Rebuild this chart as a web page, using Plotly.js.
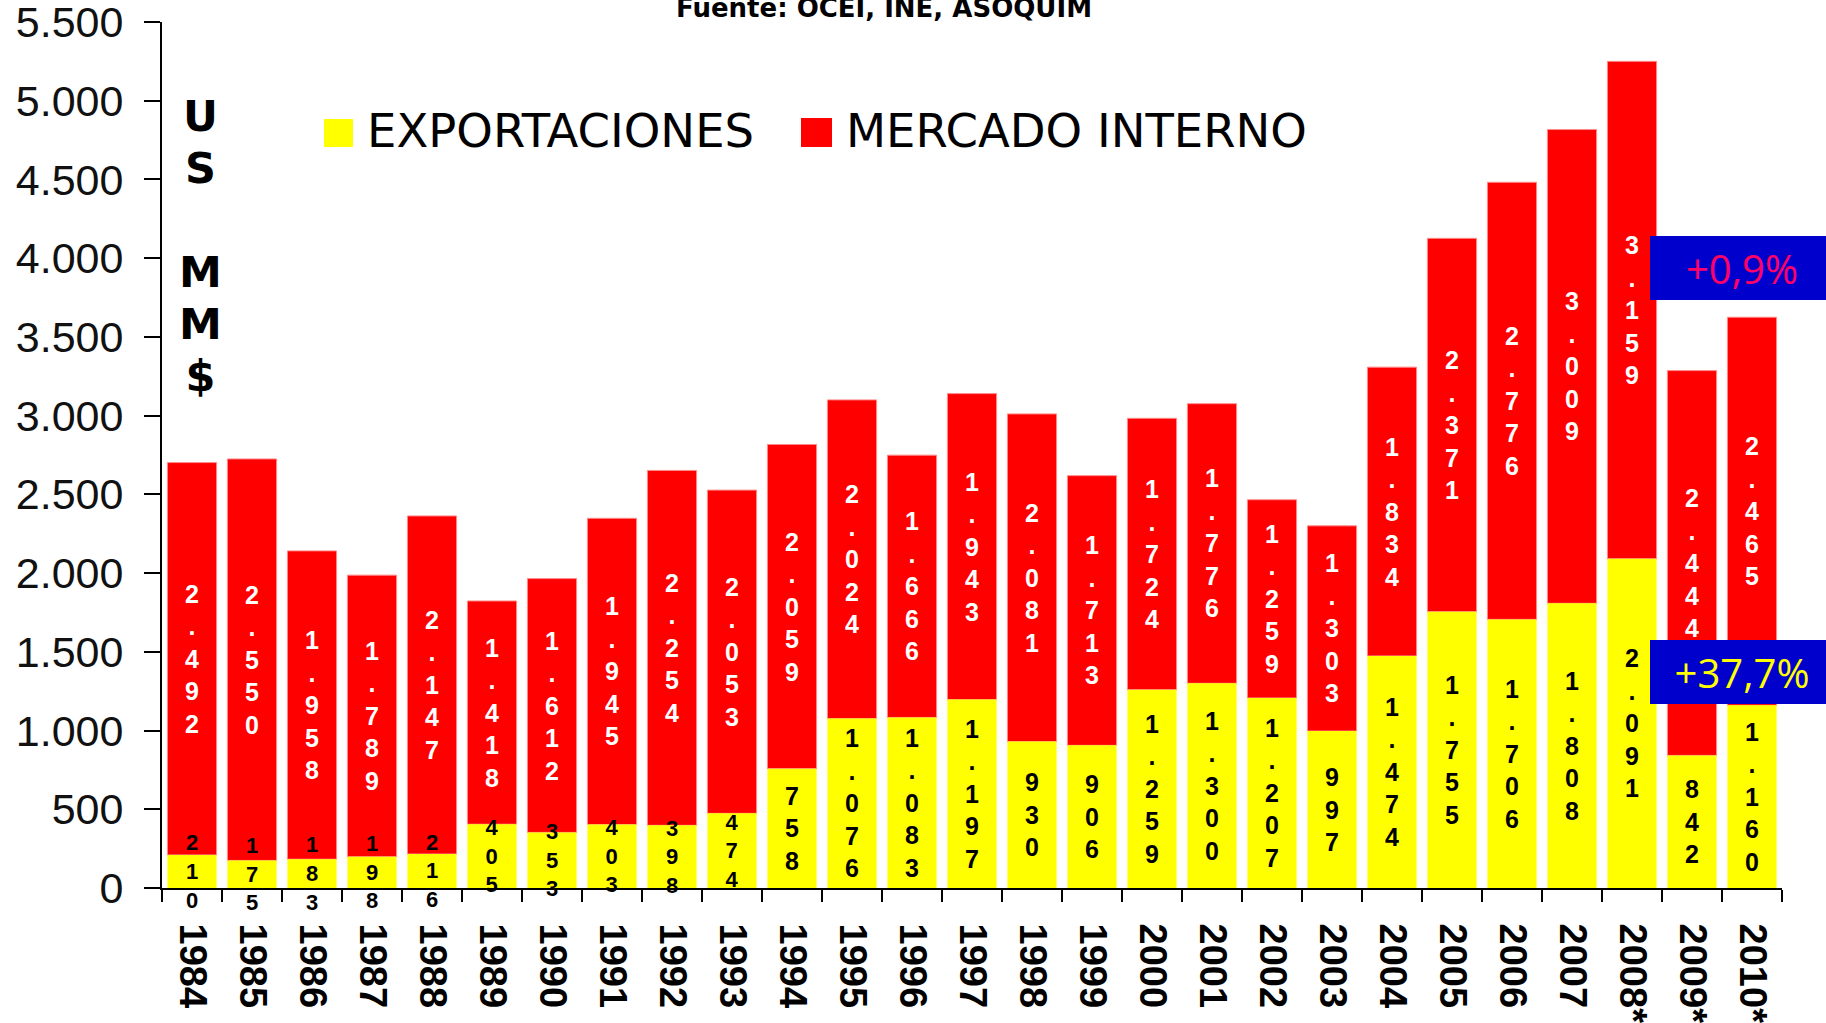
<!DOCTYPE html>
<html>
<head>
<meta charset="utf-8">
<script src="https://cdn.plot.ly/plotly-3.0.1.min.js"></script>
<style>
  html, body { margin: 0; padding: 0; background: #ffffff; }
  #chart { width: 1826px; height: 1023px; }
</style>
</head>
<body>
<div id="chart"></div>
<script>
// ---------- DATA ----------
const years = ['1984','1985','1986','1987','1988','1989','1990','1991','1992','1993',
  '1994','1995','1996','1997','1998','1999','2000','2001','2002','2003',
  '2004','2005','2006','2007','2008*','2009*','2010*'];
const exportaciones = [210,175,183,198,216,405,353,403,398,474,
  758,1076,1083,1197,930,906,1259,1300,1207,997,
  1474,1755,1706,1808,2091,842,1160];
const mercadoInterno = [2492,2550,1958,1789,2147,1418,1612,1945,2254,2053,
  2059,2024,1666,1943,2081,1713,1724,1776,1259,1303,
  1834,2371,2776,3009,3159,2444,2465];
const yTickValues = [0,500,1000,1500,2000,2500,3000,3500,4000,4500,5000,5500];
const seriesNames = ['EXPORTACIONES', 'MERCADO INTERNO'];
const sourceText = 'Fuente: OCEI, INE, ASOQUIM';
const unitLetters = ['U','S','','M','M','$'];
const changeLabels = ['+0,9%', '+37,7%'];

// ---------- HELPERS ----------
function fmt(n) {
  if (n >= 1000) return Math.floor(n / 1000) + '.' + String(n % 1000).padStart(3, '0');
  return String(n);
}
function vertical(n) { return fmt(n).split('').join('<br>'); }

const Wd = 1826, Ht = 1023, L = 162, R = 44, T = 22, B = 135;
const plotW = Wd - L - R, plotH = Ht - T - B;
const px = x => (x - L) / plotW;
const py = y => (Ht - B - y) / plotH;

const labelFont = 'Liberation Sans, Arial, sans-serif';

const traceMercado = {
  type: 'bar',
  name: seriesNames[1],
  x: years,
  y: mercadoInterno,
  base: exportaciones,
  marker: { color: '#FF0000', line: { color: '#FF8C8C', width: 1 } },
  text: mercadoInterno.map(vertical),
  textposition: 'inside',
  insidetextanchor: 'middle',
  textangle: 0,
  constraintext: 'none',
  cliponaxis: false,
  textfont: { family: labelFont, size: 25, color: '#FFFFFF', weight: 'bold' },
  showlegend: false,
  hoverinfo: 'x+y'
};
const traceExport = {
  type: 'bar',
  name: seriesNames[0],
  x: years,
  y: exportaciones,
  marker: { color: '#FFFF00', line: { width: 0 } },
  text: exportaciones.map(vertical),
  textposition: 'inside',
  insidetextanchor: 'middle',
  textangle: 0,
  constraintext: 'none',
  cliponaxis: false,
  textfont: { family: labelFont, size: exportaciones.map(v => v < 500 ? 22 : 25), color: '#000000', weight: 'bold' },
  showlegend: false,
  hoverinfo: 'x+y'
};

const unitText = unitLetters.map(c => c === '' ? '\u00A0' : '<span style="font-size:43px">' + c + '</span>').join('<br>');

const layout = {
  width: Wd, height: Ht,
  margin: { l: L, r: R, t: T, b: B, pad: 0 },
  paper_bgcolor: '#FFFFFF',
  plot_bgcolor: '#FFFFFF',
  barmode: 'overlay',
  bargap: 0.18,
  separators: ',.',
  showlegend: false,
  xaxis: {
    type: 'category',
    showgrid: false, zeroline: false,
    showline: true, linecolor: '#000000', linewidth: 2,
    ticks: 'outside', tickson: 'boundaries', ticklen: 12, tickwidth: 2, tickcolor: '#000000',
    tickangle: 90,
    tickfont: { family: labelFont, size: 38, color: '#000000', weight: 'bold' },
    ticklabelstandoff: 26,
    ticklabeloverflow: 'allow',
    fixedrange: true
  },
  yaxis: {
    range: [0, 5500],
    tickvals: yTickValues,
    ticktext: yTickValues.map(fmt),
    showgrid: false, zeroline: false,
    showline: true, linecolor: '#000000', linewidth: 2,
    ticks: 'outside', ticklen: 16, tickwidth: 2, tickcolor: '#000000',
    tickfont: { family: labelFont, size: 43, color: '#111111' },
    ticklabelstandoff: 12,
    ticklabeloverflow: 'allow',
    fixedrange: true
  },
  shapes: [
    { type: 'rect', xref: 'paper', yref: 'paper', x0: px(324), x1: px(353), y0: py(147), y1: py(119),
      fillcolor: '#FFFF00', line: { width: 0 } },
    { type: 'rect', xref: 'paper', yref: 'paper', x0: px(801), x1: px(832), y0: py(147), y1: py(118),
      fillcolor: '#FF0000', line: { width: 0 } }
  ],
  annotations: [
    { xref: 'paper', yref: 'paper', x: px(884), y: py(8), xanchor: 'center', yanchor: 'middle',
      text: sourceText, showarrow: false,
      font: { family: 'DejaVu Sans, sans-serif', size: 26, color: '#000000', weight: 'bold' } },
    { xref: 'paper', yref: 'paper', x: px(365), y: py(131), xanchor: 'left', yanchor: 'middle',
      text: seriesNames[0], showarrow: false,
      font: { family: 'DejaVu Sans, sans-serif', size: 46.5, color: '#000000' } },
    { xref: 'paper', yref: 'paper', x: px(844), y: py(131), xanchor: 'left', yanchor: 'middle',
      text: seriesNames[1], showarrow: false,
      font: { family: 'DejaVu Sans, sans-serif', size: 46.5, color: '#000000' } },
    { xref: 'paper', yref: 'paper', x: px(200), y: py(245.5), xanchor: 'center', yanchor: 'middle',
      text: unitText, showarrow: false,
      font: { family: 'DejaVu Sans, sans-serif', size: 40, color: '#000000', weight: 'bold' } },
    { xref: 'paper', yref: 'paper', x: px(1650), y: py(268), xanchor: 'left', yanchor: 'middle',
      text: changeLabels[0], showarrow: false, width: 176, height: 56, borderpad: 4, borderwidth: 0,
      bgcolor: '#0000CC', align: 'center',
      font: { family: 'Open Sans, sans-serif', size: 40, color: '#FF0066' } },
    { xref: 'paper', yref: 'paper', x: px(1650), y: py(672), xanchor: 'left', yanchor: 'middle',
      text: changeLabels[1], showarrow: false, width: 176, height: 56, borderpad: 4, borderwidth: 0,
      bgcolor: '#0000CC', align: 'center',
      font: { family: 'Open Sans, sans-serif', size: 40, color: '#FFFF00' } }
  ]
};

Plotly.newPlot('chart', [traceMercado, traceExport], layout, { displayModeBar: false, staticPlot: true });
</script>
</body>
</html>
